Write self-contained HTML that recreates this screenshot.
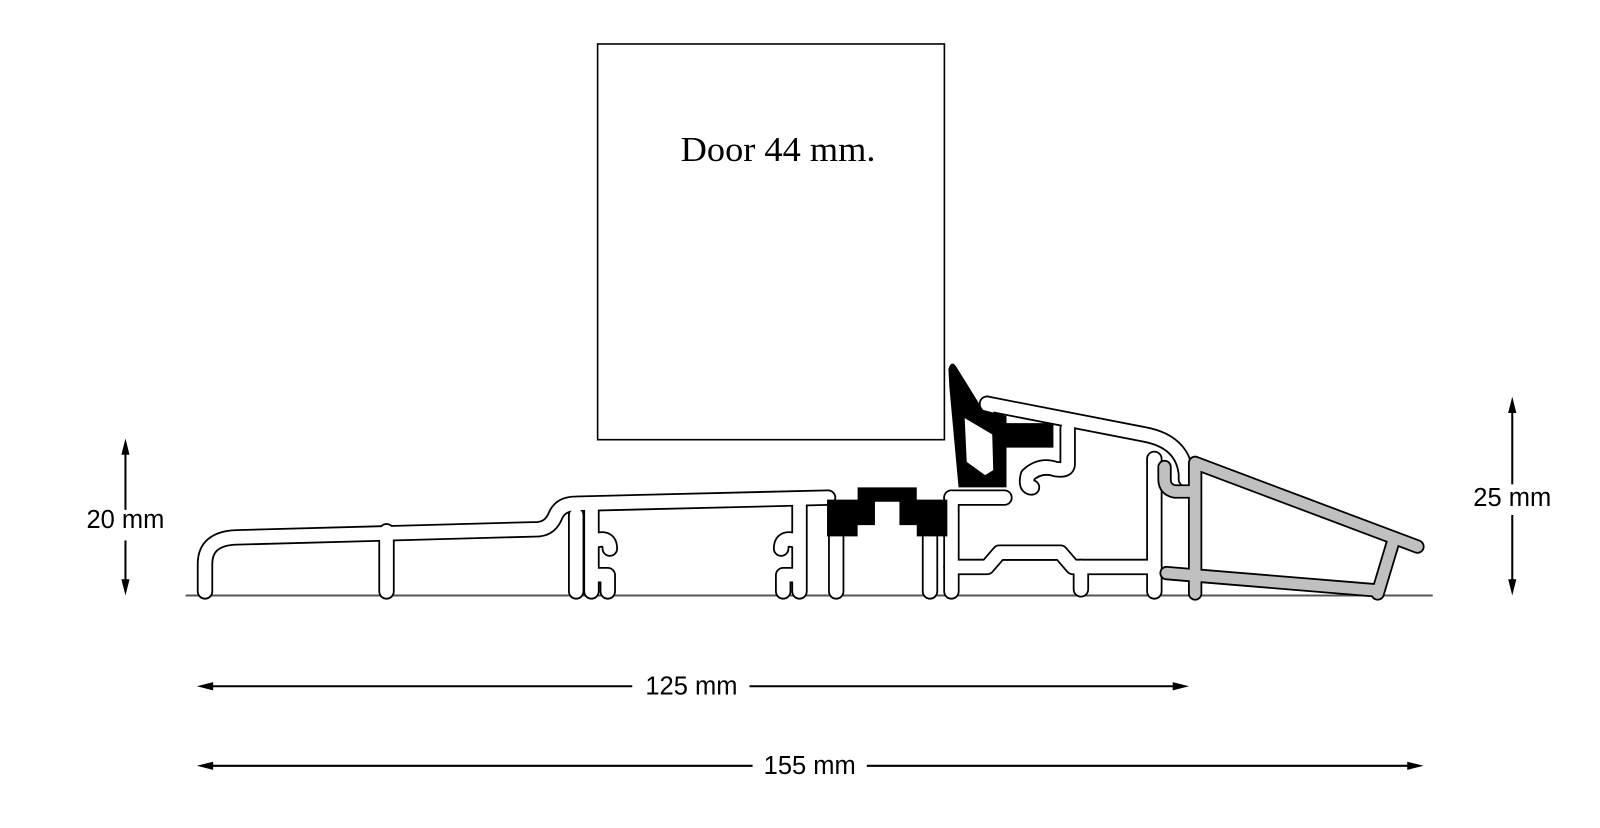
<!DOCTYPE html>
<html><head><meta charset="utf-8"><style>html,body{margin:0;padding:0;background:#fff}svg{display:block}</style></head>
<body>
<svg width="1600" height="828" viewBox="0 0 1569 812" xmlns="http://www.w3.org/2000/svg">
<defs>
<g id="prof" fill="none" stroke-linecap="round" stroke-linejoin="round">
<path d="M201,580 L201,553 Q201,528 232,527 L528,519 Q540,518 545,505 Q550,494 565,494 L812,488"/>
<path d="M379,521 L379,580"/>
<path d="M565,505 L565,580"/>
<path d="M580,500 L580,580"/>
<path d="M584,530 q14,-4 14,8"/>
<path d="M584,564 l12,0 l0,16"/>
<path d="M784,492 L784,580"/>
<path d="M780,530 q-14,-4 -14,8"/>
<path d="M780,564 l-12,0 l0,16"/>
<path d="M820,526 L820,580"/>
<path d="M912,526 L912,580"/>
<path d="M933,488 L933,580"/>
<path d="M933,488 L985,488"/>
<path d="M933,556 L968,556 L980,542 L1040,542 L1052,556 L1132,556"/>
<path d="M1060,556 L1060,578"/>
<path d="M1132,450 L1132,580"/>
<path d="M968,396 L1122,426 Q1160,433 1163,465 L1163,470"/>
<path d="M968,396 L968,410"/>
<path d="M1047,420 L1047,455 Q1047,462 1035,460 Q1020,455 1008,466 Q1005,478 1012,478"/>
</g>
<path id="gb" d="M1172,454 L1390,536 M1172,454 L1172,582 M1144,562 L1350,579 M1351,582 L1366,532 M1142,458 L1142,470 Q1142,480 1152,482 L1172,482"/>
</defs>
<line x1="182" y1="584" x2="1405" y2="584" stroke="#555" stroke-width="2"/>
<use href="#prof" stroke="#000" stroke-width="16"/>
<use href="#prof" stroke="#fff" stroke-width="12.5"/>
<use href="#gb" stroke="#000" stroke-width="14" fill="none" stroke-linecap="round" stroke-linejoin="round"/>
<use href="#gb" stroke="#c0c0c0" stroke-width="10.5" fill="none" stroke-linecap="round" stroke-linejoin="round"/>
<rect x="598" y="44" width="347" height="396" fill="#fff" stroke="#000" stroke-width="1.6" transform="scale(0.98)"/>
<text x="763" y="158" font-family="Liberation Serif, serif" font-size="34" text-anchor="middle" textLength="191" lengthAdjust="spacingAndGlyphs">Door 44 mm.</text>
<path d="M811,490 L841,490 L841,478 L899,478 L899,490 L929,490 L929,526 L899,526 L899,515 L882,515 L882,492 L858,492 L858,515 L841,515 L841,526 L811,526 Z" fill="#000"/>
<path d="M930,362 Q933,352 938,360 L964,402 L987,408 L987,415 L1033,415 L1033,439 L987,439 L987,478 L940,478 L931,380 Z" fill="#000"/>
<path d="M946,410 L973,426 L974,461 L966,466 L948,453 Z" fill="#fff"/>
<g stroke="#000" stroke-width="2" fill="none">
<line x1="123" y1="440" x2="123" y2="500"/><line x1="123" y1="530" x2="123" y2="574"/>
<line x1="1483" y1="399" x2="1483" y2="475"/><line x1="1483" y1="505" x2="1483" y2="574"/>
<line x1="203" y1="673" x2="620" y2="673"/><line x1="735" y1="673" x2="1156" y2="673"/>
<line x1="203" y1="751" x2="738" y2="751"/><line x1="850" y1="751" x2="1386" y2="751"/>
</g>
<g fill="#000">
<path d="M123,430 L119,446 L127,446 Z"/><path d="M123,584 L119,568 L127,568 Z"/>
<path d="M1483,389 L1479,405 L1487,405 Z"/><path d="M1483,584 L1479,568 L1487,568 Z"/>
<path d="M193,673 L209,669 L209,677 Z"/><path d="M1166,673 L1150,669 L1150,677 Z"/>
<path d="M193,751 L209,747 L209,755 Z"/><path d="M1396,751 L1380,747 L1380,755 Z"/>
</g>
<g font-family="Liberation Sans, sans-serif" font-size="25" text-anchor="middle" fill="#000">
<text x="123" y="518">20 mm</text>
<text x="1483" y="496">25 mm</text>
<text x="678" y="681">125 mm</text>
<text x="794" y="759">155 mm</text>
</g>
</svg>
</body></html>
